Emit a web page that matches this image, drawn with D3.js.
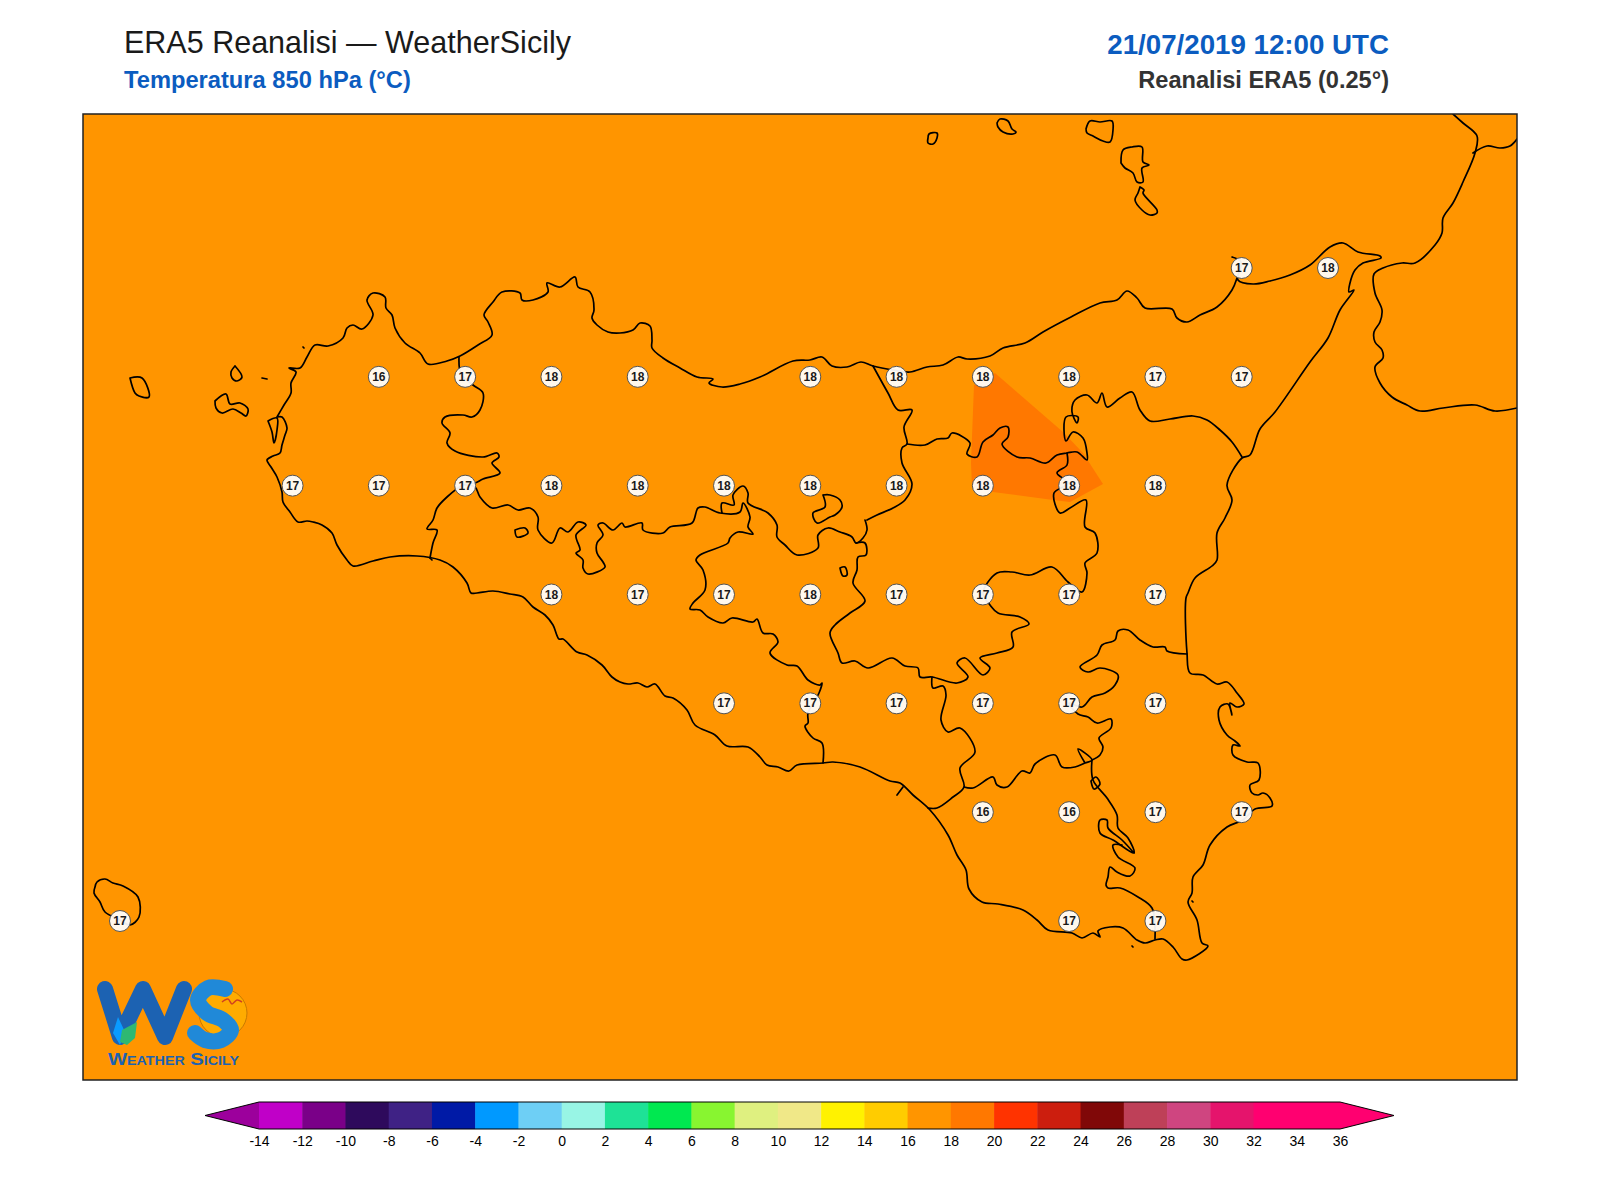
<!DOCTYPE html>
<html lang="it">
<head>
    <meta charset="UTF-8">
    <title>ERA5 Reanalisi - WeatherSicily</title>
    <script src="https://d3js.org/d3.v7.min.js"></script>
    <style>
    html, body { margin: 0; padding: 0; background: #fff; }
    text { font-family: "Liberation Sans", Arial, sans-serif; }
    </style>
</head>
<body>
<div id="chart"></div>
<script>
// colour scale of the map
var levels = [-14, -12, -10, -8, -6, -4, -2, 0, 2, 4, 6, 8, 10, 12, 14, 16, 18, 20, 22, 24, 26, 28, 30, 32, 34, 36];
var bandColors = ["#9c009c", "#c000c8", "#7a0088", "#2e0a5c", "#3f2285", "#001aa6", "#0099ff", "#6ecff5", "#98f5e5",
    "#1ee296", "#00e850", "#88f530", "#dff080", "#f0e888", "#fff200", "#ffcc00", "#ff9500", "#ff7800", "#ff3300",
    "#cc1e0e", "#800808", "#be4058", "#cf4580", "#e5146c", "#ff0070", "#ff0070", "#ff0070"];

// station grid, 0.25 degree, null = no label
var gridLons = [12, 12.25, 12.5, 12.75, 13, 13.25, 13.5, 13.75, 14, 14.25, 14.5, 14.75, 15, 15.25, 15.5];
var gridLats = [38.25, 38, 37.75, 37.5, 37.25, 37, 36.75];
var _ = null;
var gridValues = [
    [_, _, _, _, _, _, _, _, _, _, _, _, _, 17, 18],
    [_, _, _, 16, 17, 18, 18, _, 18, 18, 18, 18, 17, 17, _],
    [_, _, 17, 17, 17, 18, 18, 18, 18, 18, 18, 18, 18, _, _],
    [_, _, _, _, _, 18, 17, 17, 18, 17, 17, 17, 17, _, _],
    [_, _, _, _, _, _, _, 17, 17, 17, 17, 17, 17, _, _],
    [_, _, _, _, _, _, _, _, _, _, 16, 16, 17, 17, _],
    [17, _, _, _, _, _, _, _, _, _, _, 17, 17, _, _]
];

// field values of the two filled areas
var fieldBase = 17;
var fieldPatch = 18.5;
// digitised outlines below are in map units: origin near the top left corner of the frame
var patchOutline = [[893,273],[914,261],[982,320],[1002,341],[1022,372],[989,390],[972,388],[912,380],[891,375],[890,351]];

var coastSicily = [[196,305],[203,293],[210,281],[210,271],[215,260],[208,256],[219,256],[226,245],[234,233],[247,234],
    [262,226],[266,216],[272,213],[281,217],[292,203],[286,188],[292,181],[304,185],[305,196],[311,203],[314,216],
    [324,231],[339,241],[347,252],[366,249],[379,244],[397,233],[411,223],[407,210],[403,203],[412,190],[421,180],
    [439,181],[441,188],[452,188],[467,180],[466,171],[479,175],[494,165],[497,175],[509,180],[513,198],[511,206],
    [516,213],[527,220],[539,221],[552,218],[559,211],[569,214],[571,228],[571,236],[582,246],[599,256],[616,265],
    [632,267],[628,271],[641,275],[659,272],[679,265],[712,249],[729,248],[741,245],[751,254],[766,255],[780,250],
    [792,254],[812,258],[829,260],[846,255],[862,253],[877,245],[886,247],[909,244],[922,236],[944,231],[962,220],
    [990,205],[1019,191],[1036,188],[1046,179],[1056,186],[1064,196],[1091,197],[1096,206],[1106,210],[1119,203],
    [1136,195],[1151,178],[1156,166],[1160,150],[1151,145],[1160,150],[1157,168],[1172,172],[1189,169],[1209,163],
    [1229,153],[1249,135],[1262,131],[1277,140],[1299,144],[1300,146],[1282,151],[1274,158],[1269,171],[1268,180],
    [1273,178],[1259,198],[1247,226],[1229,250],[1194,300],[1179,317],[1169,343],[1161,346],[1146,373],[1151,388],
    [1144,406],[1136,421],[1136,448],[1131,454],[1114,466],[1107,481],[1105,486],[1106,541],[1109,561],[1122,563],
    [1136,572],[1146,570],[1156,581],[1163,592],[1156,595],[1149,591],[1151,603],[1147,592],[1139,595],[1138,608],
    [1146,623],[1154,629],[1159,634],[1152,633],[1152,643],[1166,650],[1177,651],[1178,668],[1169,673],[1171,681],
    [1177,683],[1182,681],[1189,686],[1191,694],[1174,697],[1162,708],[1146,715],[1129,733],[1122,753],[1112,765],
    [1111,781],[1107,790],[1116,808],[1121,831],[1127,834],[1106,848],[1101,847],[1092,835],[1082,827],[1074,828],
    [1064,831],[1056,828],[1042,816],[1029,815],[1017,819],[1019,825],[1012,821],[1001,826],[991,821],[967,818],
    [956,808],[942,798],[917,792],[901,790],[888,777],[885,758],[876,743],[867,723],[849,698],[832,683],[819,671],
    [809,669],[779,655],[752,650],[742,651],[716,653],[708,659],[697,655],[686,653],[679,645],[667,635],[646,634],
    [634,623],[614,613],[606,598],[592,586],[584,584],[574,572],[566,575],[557,571],[547,572],[539,570],[531,565],
    [521,553],[506,543],[496,540],[482,527],[478,527],[472,513],[464,503],[452,495],[442,485],[429,482],[412,479],
    [396,481],[390,481],[386,471],[372,455],[359,448],[336,444],[309,445],[292,449],[272,454],[266,448],[256,433],
    [251,421],[241,413],[232,410],[226,409],[217,410],[209,400],[202,390],[201,380],[196,365],[190,355],[186,348],
    [192,344],[199,341],[201,333],[204,323],[206,316],[201,305],[196,305]];

var calabria = [[1372,2],[1382,11],[1396,24],[1394,41],[1382,70],[1372,91],[1362,106],[1361,121],[1354,133],[1334,151],
    [1321,151],[1302,156],[1293,162],[1294,181],[1301,198],[1299,210],[1293,220],[1294,230],[1301,238],[1302,246],
    [1294,255],[1299,271],[1311,285],[1326,293],[1339,299],[1362,296],[1394,293],[1414,299],[1436,296]];
var calabriaTop = [[1392,41],[1406,34],[1419,36],[1429,34],[1436,27]];

var islands = [
    [[49,266],[61,266],[68,285],[58,284],[54,281],[49,266]],
    [[154,254],[161,265],[156,269],[151,266],[150,260],[154,254]],
    [[134,289],[145,282],[149,292],[159,291],[167,297],[165,304],[160,301],[152,297],[141,301],[135,296],[134,289]],
    [[181,266],[186,267]],
    [[222,235],[223,236]],
    [[187,309],[196,306],[196,318],[193,331],[191,320],[187,309]],
    [[14,775],[16,770],[24,767],[32,771],[42,774],[57,785],[58,805],[49,813],[39,808],[24,800],[19,790],[13,781],[14,775]],
    [[847,26],[848,22],[856,21],[856,26],[852,32],[847,31],[847,26]],
    [[916,11],[919,7],[927,9],[931,17],[935,20],[932,22],[922,20],[917,15],[916,11]],
    [[1005,17],[1009,9],[1019,10],[1031,9],[1032,18],[1029,30],[1022,29],[1012,24],[1006,21],[1005,17]],
    [[1040,51],[1042,38],[1051,35],[1061,35],[1062,50],[1068,53],[1061,56],[1062,70],[1056,70],[1052,61],[1044,56],[1040,51]],
    [[1059,75],[1063,78],[1062,81],[1076,98],[1076,101],[1069,103],[1061,98],[1054,88],[1057,81],[1059,75]],
    [[1051,834],[1052,835]],
    [[1111,789],[1112,790]]
];

// province borders and inland water
var borders = [
    [[378,245],[380,262],[392,273],[402,281],[399,298],[391,305],[382,303],[364,305],[361,311],[369,321],[366,331],[374,339],
     [402,345],[416,341],[418,345],[411,351],[419,361],[402,367],[394,371],[382,373],[366,385],[356,396],[352,408],[346,417],[356,418],[352,431],[349,446]],
    [[384,373],[394,375],[399,385],[411,396],[427,393],[437,398],[449,396],[457,405],[457,418],[471,431],[479,416],[487,420],
     [497,410],[505,413],[495,423],[499,438],[495,441],[502,448],[502,456],[507,462],[524,455],[522,450],[516,441],[516,431],
     [522,423],[517,413],[522,411],[532,418],[541,411],[544,415],[561,411],[562,418],[582,421],[589,415],[611,411],[617,396],
     [624,395],[639,401],[659,400],[662,391],[669,405],[667,415],[672,422],[657,420],[649,426],[647,431],[619,443],[615,448],
     [622,458],[624,478],[612,491],[609,497],[619,498],[627,505],[642,511],[651,506],[672,510],[676,507],[682,521],[692,522],
     [697,530],[689,541],[706,553],[716,554],[727,568],[739,573],[741,571],[738,581],[727,601],[727,611],[724,614],[732,626],[741,631],[742,651]],
    [[641,401],[641,391],[653,393],[652,383],[662,374],[667,381],[667,391],[687,401],[696,413],[696,425],[704,433],[716,443],
     [737,436],[737,423],[747,416],[759,420],[771,425],[775,431],[782,426],[786,418],[784,408]],
    [[742,383],[749,383],[759,388],[761,395],[754,403],[749,405],[736,411],[732,401],[744,395],[742,383]],
    [[775,431],[784,431],[785,443],[777,445],[776,458],[772,471],[784,489],[769,501],[754,513],[749,521],[757,541],[761,551],
     [774,549],[787,556],[811,546],[824,554],[837,556],[839,565],[851,565],[876,571],[887,565],[876,551],[884,546],[902,563],
     [909,556],[899,546],[916,541],[932,535],[931,520],[948,512],[939,505],[917,501],[909,493],[902,481],[916,461],[931,460],
     [949,463],[971,455],[987,470],[1001,480],[1006,461],[1004,451],[1016,441],[1014,421],[1004,415],[1005,388],[989,396],
     [979,401],[973,381],[987,371],[976,361],[986,353],[986,341]],
    [[792,254],[807,281],[817,298],[831,298],[823,315],[826,332],[821,336],[821,351],[831,372],[824,388],[812,396],[796,403],[786,408]],
    [[826,332],[844,333],[856,327],[867,326],[871,321],[889,331],[886,342],[896,345],[902,330],[912,323],[919,316],[927,315],
     [927,325],[921,332],[936,345],[949,346],[965,351],[976,343],[986,341],[996,340],[1006,348],[1006,341],[1002,326],[992,320],
     [985,329],[985,305],[997,305],[996,311],[991,300],[994,288],[1006,283],[1016,291],[1021,281],[1026,295],[1039,286],[1051,280],
     [1059,298],[1069,309],[1089,307],[1112,304],[1126,308],[1139,318],[1151,330],[1161,345]],
    [[851,565],[852,576],[862,574],[865,583],[860,608],[867,620],[879,616],[894,640],[879,656],[883,675],[872,685],[856,696],[847,696]],
    [[883,675],[892,676],[912,665],[916,673],[926,675],[941,659],[949,661],[954,652],[974,643],[981,655],[994,655],[1004,651],
     [1011,648],[997,637],[1004,651]],
    [[1011,648],[1019,643],[1022,635],[1018,626],[1030,616],[1030,607],[1016,611],[1007,605],[997,602],[988,591],[1001,595],
     [1011,585],[1024,581],[1034,573],[1037,563],[1019,556],[1007,560],[999,555],[1016,543],[1021,533],[1034,528],[1037,519],
     [1047,518],[1059,528],[1072,535],[1084,535],[1086,539],[1106,542]],
    [[1011,648],[1012,668],[1026,686],[1036,703],[1037,716],[1047,726],[1053,741],[1032,728],[1019,721],[1019,708],[1026,708],[1027,716],[1041,728],[1053,741]],
    [[1041,733],[1032,733],[1037,745],[1054,756],[1049,764],[1036,760],[1029,755],[1027,765],[1025,773],[1027,776],[1039,776],[1057,785],[1071,796],[1074,815],[1074,827]],
    [[822,675],[816,683]],
    [[351,448],[349,446]],
    [[434,418],[444,416],[447,421],[436,425],[434,418]],
    [[759,456],[764,455],[766,463],[762,464],[759,456]],
    [[1010,669],[1015,665],[1019,672],[1013,677],[1010,669]]
];

// WS logo shapes, units relative to the logo corner
var logoW = [[10,14],[25,62],[48,14],[70,62],[89,14]];
var logoS = [[130,14],[113,13],[103,25],[112,38],[128,45],[136,55],[126,65],[110,65],[100,58]];
var logoLeaf = [[25,67],[27,55],[42,47],[40,63],[32,70]];
var logoDrop = [[23,42],[30,57],[25,70],[18,58]];
var logoBird = [[127,27],[133,24],[137,29],[142,25],[147,27]];

var p = { width: 1600, height: 1200, left: 83, top: 114, right: 1517, bottom: 1080 };

var svg = d3.select("#chart").append("svg")
    .attr("width", p.width)
    .attr("height", p.height);

var fieldColor = d3.scaleThreshold().domain(levels).range(bandColors);

// scales
var xMap = d3.scaleLinear().domain([2, 1436]).range([p.left, p.right]);
var yMap = d3.scaleLinear().domain([2, 968]).range([p.top, p.bottom]);
var xLon = d3.scaleLinear().domain([12, 15.5]).range([120, 1328]);
var yLat = d3.scaleLinear().domain([36.75, 38.25]).range([921, 268]);
var line = d3.line().curve(d3.curveCatmullRom.alpha(0.5))
    .x(function(d) { return xMap(d[0]); })
    .y(function(d) { return yMap(d[1]); });

svg.append("clipPath").attr("id", "frame").append("rect")
    .attr("x", p.left).attr("y", p.top)
    .attr("width", p.right - p.left).attr("height", p.bottom - p.top);

// titles
svg.append("text").attr("x", 124).attr("y", 53)
    .attr("font-size", 30.5).attr("fill", "#1a1a1a")
    .text("ERA5 Reanalisi — WeatherSicily");
svg.append("text").attr("x", 124).attr("y", 88)
    .attr("font-size", 23.7).attr("font-weight", "bold").attr("fill", "#0b5cc0")
    .text("Temperatura 850 hPa (°C)");
svg.append("text").attr("x", 1389).attr("y", 54).attr("text-anchor", "end")
    .attr("font-size", 27.7).attr("font-weight", "bold").attr("fill", "#0b5cc0")
    .text("21/07/2019 12:00 UTC");
svg.append("text").attr("x", 1389).attr("y", 88).attr("text-anchor", "end")
    .attr("font-size", 23.6).attr("font-weight", "bold").attr("fill", "#333")
    .text("Reanalisi ERA5 (0.25°)");

// map
var map = svg.append("g").attr("clip-path", "url(#frame)");
map.append("rect")
    .attr("x", p.left).attr("y", p.top)
    .attr("width", p.right - p.left).attr("height", p.bottom - p.top)
    .attr("fill", fieldColor(fieldBase));
map.append("path")
    .attr("d", d3.line().x(function(d) { return xMap(d[0]); }).y(function(d) { return yMap(d[1]); })(patchOutline) + "Z")
    .attr("fill", fieldColor(fieldPatch));

var outlines = [coastSicily, calabria, calabriaTop].concat(islands, borders);
map.selectAll("path.outline").data(outlines).enter().append("path")
    .attr("class", "outline")
    .attr("d", line)
    .attr("fill", "none")
    .attr("stroke", "#000")
    .attr("stroke-width", 1.7)
    .attr("stroke-linejoin", "round")
    .attr("stroke-linecap", "round");

// labels of the grid points
var stations = [];
gridValues.forEach(function(row, i) {
    row.forEach(function(v, j) {
        if (v !== null) stations.push({ lon: gridLons[j], lat: gridLats[i], value: v });
    });
});
var st = map.selectAll("g.station").data(stations).enter().append("g")
    .attr("class", "station")
    .attr("transform", function(d) { return "translate(" + xLon(d.lon) + "," + yLat(d.lat) + ")"; });
st.append("circle")
    .attr("r", 10.5)
    .attr("fill", "#fff")
    .attr("fill-opacity", 0.93)
    .attr("stroke", "#555")
    .attr("stroke-width", 1);
st.append("text")
    .attr("text-anchor", "middle")
    .attr("y", 4)
    .attr("font-size", 12)
    .attr("font-weight", "bold")
    .attr("fill", "#1a1a1a")
    .text(function(d) { return d.value; });

// logo
var logoLine = d3.line().curve(d3.curveCatmullRom);
var logo = svg.append("g").attr("transform", "translate(95,975)");
logo.append("circle").attr("cx", 128).attr("cy", 38).attr("r", 24)
    .attr("fill", "#ffab00").attr("stroke", "#c87a00").attr("stroke-width", 1);
logo.append("path").attr("d", d3.line()(logoW))
    .attr("fill", "none").attr("stroke", "#1c62b2").attr("stroke-width", 16)
    .attr("stroke-linejoin", "round").attr("stroke-linecap", "round");
logo.append("path").attr("d", logoLine(logoS))
    .attr("fill", "none").attr("stroke", "#2089d8").attr("stroke-width", 16)
    .attr("stroke-linecap", "round");
logo.append("path").attr("d", d3.line()(logoDrop) + "Z").attr("fill", "#0a9bff");
logo.append("path").attr("d", d3.line()(logoLeaf) + "Z").attr("fill", "#2eb872");
logo.append("path").attr("d", logoLine(logoBird))
    .attr("fill", "none").attr("stroke", "#d04020").attr("stroke-width", 1.5);
logo.append("text").attr("x", 13).attr("y", 90)
    .attr("font-size", 17).attr("font-weight", "bold").attr("fill", "#1c62b2")
    .style("font-variant", "small-caps")
    .attr("textLength", 131).attr("lengthAdjust", "spacingAndGlyphs")
    .text("Weather Sicily");

// frame
svg.append("rect")
    .attr("x", p.left).attr("y", p.top)
    .attr("width", p.right - p.left).attr("height", p.bottom - p.top)
    .attr("fill", "none").attr("stroke", "#222").attr("stroke-width", 1.5);

// colorbar
var cb = { top: 1102, height: 27, arrow: 54 };
var xBar = d3.scaleLinear().domain([-14, 36]).range([259, 1340]);
var bar = svg.append("g");
var bands = d3.pairs(levels);
bar.selectAll("rect").data(bands).enter().append("rect")
    .attr("x", function(d) { return xBar(d[0]); })
    .attr("y", cb.top)
    .attr("width", function(d) { return xBar(d[1]) - xBar(d[0]) + 0.5; })
    .attr("height", cb.height)
    .attr("fill", function(d) { return fieldColor(d[0]); });

var tipL = xBar(-14) - cb.arrow, tipR = xBar(36) + cb.arrow;
bar.append("path")
    .attr("d", d3.line()([[xBar(-14), cb.top], [tipL, cb.top + cb.height / 2], [xBar(-14), cb.top + cb.height]]) + "Z")
    .attr("fill", fieldColor(-15));
bar.append("path")
    .attr("d", d3.line()([[xBar(36), cb.top], [tipR, cb.top + cb.height / 2], [xBar(36), cb.top + cb.height]]) + "Z")
    .attr("fill", fieldColor(37));
bar.append("path")
    .attr("d", d3.line()([[xBar(-14), cb.top], [tipL, cb.top + cb.height / 2], [xBar(-14), cb.top + cb.height],
        [xBar(36), cb.top + cb.height], [tipR, cb.top + cb.height / 2], [xBar(36), cb.top]]) + "Z")
    .attr("fill", "none").attr("stroke", "#000").attr("stroke-width", 1);

var axis = svg.append("g")
    .attr("transform", "translate(0," + (cb.top + cb.height) + ")")
    .call(d3.axisBottom(xBar).tickValues(levels).tickSize(0).tickPadding(7).tickFormat(String));
axis.select(".domain").remove();
axis.selectAll("text").attr("font-size", 14).attr("fill", "#000")
    .style("font-family", '"Liberation Sans", Arial, sans-serif');
</script>
</body>
</html>
